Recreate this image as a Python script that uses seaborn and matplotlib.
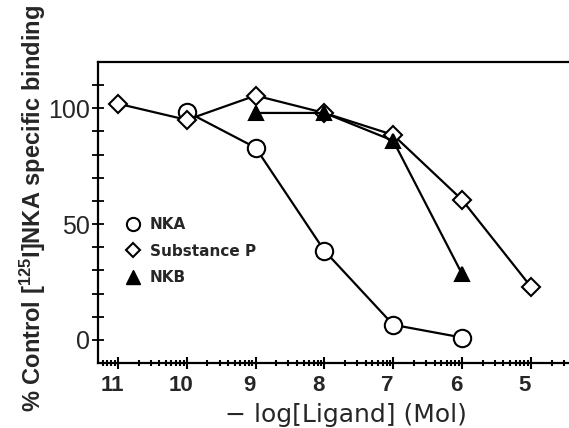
import numpy as np
import pandas as pd
import seaborn as sns
import matplotlib.pyplot as plt
import matplotlib.ticker as ticker
import matplotlib.transforms as mtransforms
from matplotlib.lines import Line2D

# -log[Ligand] (Mol) and % control binding
log_nka = [10, 9, 8, 7, 6]
nka = [98.5, 83, 38.5, 6.5, 1]

log_sp = [11, 10, 9, 8, 7, 6, 5]
sp = [102, 95, 105.5, 98, 88.5, 60.5, 23]

log_nkb = [9, 8, 7, 6]
nkb = [98, 98, 86, 28.5]

x_ticks = [11, 10, 9, 8, 7, 6, 5]
y_ticks = [0, 50, 100]
y_minor = [10, 20, 30, 40, 60, 70, 80, 90, 110]

series = [
    ("NKA", log_nka, nka, "o", 12.5, "white"),
    ("Substance P", log_sp, sp, "D", 9, "white"),
    ("NKB", log_nkb, nkb, "^", 10.5, "black"),
]


def conc_label(value, _):
    return '{:.0f}'.format(-np.log10(value))


sns.set_style('ticks')
plt.rcParams['font.family'] = ['DejaVu Sans']
plt.rcParams['mathtext.default'] = 'regular'

fig = plt.figure(figsize=(5.69, 4.28), dpi=100)
ax = fig.add_axes([98 / 569, 1 - 363 / 428, 1 - 98 / 569, 301 / 428])

for name, logs, vals, marker, ms, face in series:
    df = pd.DataFrame({'conc': [10.0 ** -v for v in logs], 'binding': vals})
    sns.lineplot(data=df, x='conc', y='binding', ax=ax, color='black', lw=1.6,
                 marker=marker, ms=ms, mfc=face, mec='black', mew=1.5, legend=False)

ax.set_xscale('log')
ax.set_xlim(10 ** -11.29, 10 ** -4.445)
ax.set_ylim(-10, 120)

ax.xaxis.set_major_locator(ticker.FixedLocator([10.0 ** -t for t in x_ticks]))
ax.xaxis.set_major_formatter(ticker.FuncFormatter(conc_label))
ax.xaxis.set_minor_locator(ticker.LogLocator(base=10, subs=np.arange(2, 10), numticks=50))
ax.xaxis.set_minor_formatter(ticker.NullFormatter())
ax.yaxis.set_major_locator(ticker.FixedLocator(y_ticks))
ax.yaxis.set_minor_locator(ticker.FixedLocator(y_minor))

ax.tick_params(axis='x', which='major', direction='inout', length=9, width=1.5,
               labelsize=16, pad=4, color='black', labelfontfamily='Liberation Sans')
ax.tick_params(axis='x', which='minor', direction='inout', length=4, width=1.5, color='black')
ax.tick_params(axis='y', which='both', direction='inout', length=9, width=1.3,
               labelsize=18, pad=1, color='black', labelfontfamily='Liberation Sans')
shift = mtransforms.ScaledTranslation(-6 / 100, 0, fig.dpi_scale_trans)
for lab in ax.get_xticklabels():
    lab.set_transform(lab.get_transform() + shift)
    lab.set_fontweight('bold')

for side in ['left', 'bottom', 'top']:
    ax.spines[side].set_linewidth(1.6)
    ax.spines[side].set_color('black')
ax.spines['right'].set_visible(False)

ax.set_xlabel('\u2212 log[Ligand] (Mol)', fontsize=18, va='center')
ax.xaxis.set_label_coords((346 - 98) / 471, (363 - 415) / 301)
ax.set_ylabel('% Control [$^{125}$I]NKA specific binding', fontsize=17,
              fontweight='bold', va='center', family='Liberation Sans')
ax.yaxis.set_label_coords((33 - 98) / 471, (363 - 209) / 301)

handles = [
    Line2D([0], [0], ls='none', marker='o', ms=9.5, mfc='white', mec='black', mew=1.5),
    Line2D([0], [0], ls='none', marker='D', ms=7.5, mfc='white', mec='black', mew=1.5),
    Line2D([0], [0], ls='none', marker='^', ms=10, mfc='black', mec='black', mew=1),
]
ax.legend(handles, [s[0] for s in series], loc='upper left',
          bbox_to_anchor=((119 - 98) / 471, (363 - 211) / 301), frameon=False,
          borderaxespad=0, handlelength=1, handletextpad=0.6, labelspacing=0.75,
          prop={'size': 11, 'weight': 'bold'})

fig.savefig('out.png', dpi=100)
